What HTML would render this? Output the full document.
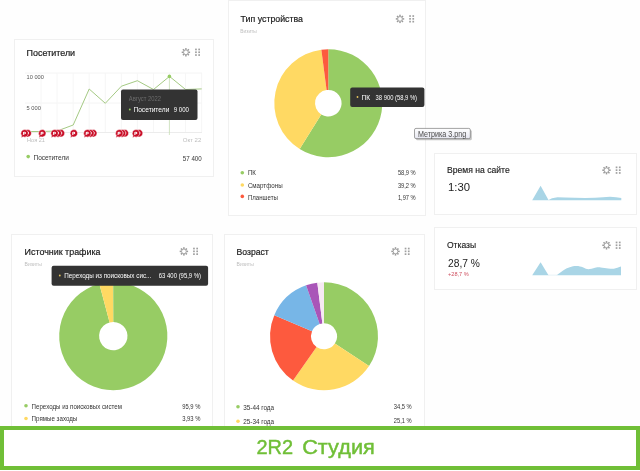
<!DOCTYPE html>
<html><head><meta charset="utf-8"><title>2R2 Студия</title>
<style>
html,body{margin:0;padding:0}
body{width:640px;height:471px;overflow:hidden;background:#fefefe;font-family:"Liberation Sans",sans-serif;position:relative;color:#222}
.card{position:absolute;background:#fff;border:1px solid #f0f0f0;box-sizing:border-box}
svg{position:absolute;left:0;top:0;font-family:"Liberation Sans",sans-serif}
#banner{position:absolute;left:0;top:426px;width:640px;height:44px;box-sizing:border-box;border:4px solid #70bf37;background:#fff}
#foot{position:absolute;left:0;top:470px;width:640px;height:1px;background:#fff}
</style></head><body>
<div class="card" style="left:14px;top:39px;width:200px;height:138px"></div>
<div class="card" style="left:228px;top:0;width:198px;height:216px"></div>
<div class="card" style="left:434px;top:153px;width:203px;height:62px"></div>
<div class="card" style="left:434px;top:227px;width:203px;height:63px"></div>
<div class="card" style="left:11px;top:234px;width:202px;height:215px"></div>
<div class="card" style="left:224px;top:234px;width:201px;height:215px"></div>
<div id="banner"></div><div id="foot"></div>

<svg width="640" height="471" viewBox="0 0 640 471">
<line x1="25" y1="73" x2="202" y2="73" stroke="#f4f4f4"/>
<line x1="25" y1="103" x2="202" y2="103" stroke="#f4f4f4"/>
<line x1="25" y1="132.5" x2="202" y2="132.5" stroke="#ececec"/>
<line x1="41.1" y1="73" x2="41.1" y2="132" stroke="#f6f6f6" stroke-width="1"/><line x1="57.1" y1="73" x2="57.1" y2="132" stroke="#f6f6f6" stroke-width="1"/><line x1="73.2" y1="73" x2="73.2" y2="132" stroke="#f6f6f6" stroke-width="1"/><line x1="89.2" y1="73" x2="89.2" y2="132" stroke="#f6f6f6" stroke-width="1"/><line x1="105.3" y1="73" x2="105.3" y2="132" stroke="#f6f6f6" stroke-width="1"/><line x1="121.4" y1="73" x2="121.4" y2="132" stroke="#f6f6f6" stroke-width="1"/><line x1="137.4" y1="73" x2="137.4" y2="132" stroke="#f6f6f6" stroke-width="1"/><line x1="153.5" y1="73" x2="153.5" y2="132" stroke="#f6f6f6" stroke-width="1"/><line x1="169.5" y1="73" x2="169.5" y2="132" stroke="#f6f6f6" stroke-width="1"/><line x1="185.6" y1="73" x2="185.6" y2="132" stroke="#f6f6f6" stroke-width="1"/><line x1="201.7" y1="73" x2="201.7" y2="132" stroke="#f6f6f6" stroke-width="1"/>
<line x1="169.4" y1="76" x2="169.4" y2="135" stroke="#c3dcae" stroke-width="0.7"/>
<path d="M25.0 131.5 L41.1 131.5 L57.1 131 L73.2 125 L89.2 89 L105.3 103.3 L121.4 86.2 L137.4 80.7 L153.5 89.5 L169.5 76.4 L185.6 89.5 L201.7 88.9" fill="none" stroke="#9fc67c" stroke-width="0.95" stroke-linejoin="round"/>
<circle cx="169.4" cy="76.4" r="1.8" fill="#97cc64"/>
<path d="M328.30 49.20A54 54 0 1 1 299.68 148.99L321.25 114.48A13.3 13.3 0 1 0 328.30 89.90Z" fill="#97cc64"/>
<path d="M299.68 148.99A54 54 0 0 1 321.35 49.65L326.59 90.01A13.3 13.3 0 0 0 321.25 114.48Z" fill="#ffd963"/>
<path d="M321.35 49.65A54 54 0 0 1 328.30 49.20L328.30 89.90A13.3 13.3 0 0 0 326.59 90.01Z" fill="#fd5a3e"/>
<path d="M113.30 282.00A54.1 54.1 0 1 1 99.30 283.84L109.62 322.38A14.2 14.2 0 1 0 113.30 321.90Z" fill="#97cc64"/>
<path d="M99.30 283.84A54.1 54.1 0 0 1 112.92 282.00L113.20 321.90A14.2 14.2 0 0 0 109.62 322.38Z" fill="#ffd963"/>
<path d="M112.92 282.00A54.1 54.1 0 0 1 113.30 282.00L113.30 321.90A14.2 14.2 0 0 0 113.20 321.90Z" fill="#97cc64"/>
<path d="M324.00 282.30A54 54 0 0 1 369.03 366.10L334.84 343.48A13 13 0 0 0 324.00 323.30Z" fill="#97cc64"/>
<path d="M369.03 366.10A54 54 0 0 1 293.03 380.53L316.54 346.95A13 13 0 0 0 334.84 343.48Z" fill="#ffd963"/>
<path d="M293.03 380.53A54 54 0 0 1 274.29 315.20L312.03 331.22A13 13 0 0 0 316.54 346.95Z" fill="#fd5a3e"/>
<path d="M274.29 315.20A54 54 0 0 1 306.06 285.37L319.68 324.04A13 13 0 0 0 312.03 331.22Z" fill="#77b6e7"/>
<path d="M306.06 285.37A54 54 0 0 1 317.33 282.71L322.39 323.40A13 13 0 0 0 319.68 324.04Z" fill="#a955b8"/>
<path d="M317.33 282.71A54 54 0 0 1 324.00 282.30L324.00 323.30A13 13 0 0 0 322.39 323.40Z" fill="#f6e9f3"/>
<path d="M532.2 200.3 L540.6 185.7 L548.5 200 L552 198.3 L557.5 197.2 L565 197.6 L575 197.8 L585 197.9 L595 197.7 L603 197.2 L610 196.8 L616 197.2 L621.3 198 L621.3 200.3Z" fill="#a9d5e6"/>
<path d="M532.2 275.3 L540.6 262.2 L548.5 275.3 L556.6 275.3 L563.1 270.6 C566 268.6 568 267.8 569.7 267.3 C572 266.3 574 265.9 576.3 265.9 C579 265.9 581 266.5 582.8 267.3 C585 268.3 587 269.3 588.4 269.3 C590 269.3 593 268.2 595 267.8 C597 267.4 599 267.3 600.6 267.4 C603 267.6 606 268.2 608.1 268.4 C610 268.7 612 268.9 613.8 268.8 C616 268.4 619 267.2 621 266.5 L621 275.3Z" fill="#a9d5e6"/>
<rect x="548" y="274.8" width="9" height="0.5" fill="#cfe6ef"/>
<g transform="translate(185.9 52.3)"><circle r="2.35" fill="none" stroke="#9a9a9a" stroke-width="0.85"/><rect x="-0.75" y="-4.2" width="1.5" height="1.7" transform="rotate(0)" fill="#9a9a9a"/><rect x="-0.75" y="-4.2" width="1.5" height="1.7" transform="rotate(45)" fill="#9a9a9a"/><rect x="-0.75" y="-4.2" width="1.5" height="1.7" transform="rotate(90)" fill="#9a9a9a"/><rect x="-0.75" y="-4.2" width="1.5" height="1.7" transform="rotate(135)" fill="#9a9a9a"/><rect x="-0.75" y="-4.2" width="1.5" height="1.7" transform="rotate(180)" fill="#9a9a9a"/><rect x="-0.75" y="-4.2" width="1.5" height="1.7" transform="rotate(225)" fill="#9a9a9a"/><rect x="-0.75" y="-4.2" width="1.5" height="1.7" transform="rotate(270)" fill="#9a9a9a"/><rect x="-0.75" y="-4.2" width="1.5" height="1.7" transform="rotate(315)" fill="#9a9a9a"/></g><rect x="195.1" y="48.6" width="1.7" height="1.7" fill="#a0a0a0"/><rect x="195.1" y="51.4" width="1.7" height="1.7" fill="#a0a0a0"/><rect x="195.1" y="54.2" width="1.7" height="1.7" fill="#a0a0a0"/><rect x="198.3" y="48.6" width="1.7" height="1.7" fill="#a0a0a0"/><rect x="198.3" y="51.4" width="1.7" height="1.7" fill="#a0a0a0"/><rect x="198.3" y="54.2" width="1.7" height="1.7" fill="#a0a0a0"/><g transform="translate(400 18.9)"><circle r="2.35" fill="none" stroke="#9a9a9a" stroke-width="0.85"/><rect x="-0.75" y="-4.2" width="1.5" height="1.7" transform="rotate(0)" fill="#9a9a9a"/><rect x="-0.75" y="-4.2" width="1.5" height="1.7" transform="rotate(45)" fill="#9a9a9a"/><rect x="-0.75" y="-4.2" width="1.5" height="1.7" transform="rotate(90)" fill="#9a9a9a"/><rect x="-0.75" y="-4.2" width="1.5" height="1.7" transform="rotate(135)" fill="#9a9a9a"/><rect x="-0.75" y="-4.2" width="1.5" height="1.7" transform="rotate(180)" fill="#9a9a9a"/><rect x="-0.75" y="-4.2" width="1.5" height="1.7" transform="rotate(225)" fill="#9a9a9a"/><rect x="-0.75" y="-4.2" width="1.5" height="1.7" transform="rotate(270)" fill="#9a9a9a"/><rect x="-0.75" y="-4.2" width="1.5" height="1.7" transform="rotate(315)" fill="#9a9a9a"/></g><rect x="409.2" y="15.2" width="1.7" height="1.7" fill="#a0a0a0"/><rect x="409.2" y="18.0" width="1.7" height="1.7" fill="#a0a0a0"/><rect x="409.2" y="20.8" width="1.7" height="1.7" fill="#a0a0a0"/><rect x="412.4" y="15.2" width="1.7" height="1.7" fill="#a0a0a0"/><rect x="412.4" y="18.0" width="1.7" height="1.7" fill="#a0a0a0"/><rect x="412.4" y="20.8" width="1.7" height="1.7" fill="#a0a0a0"/><g transform="translate(606.5 170.2)"><circle r="2.35" fill="none" stroke="#9a9a9a" stroke-width="0.85"/><rect x="-0.75" y="-4.2" width="1.5" height="1.7" transform="rotate(0)" fill="#9a9a9a"/><rect x="-0.75" y="-4.2" width="1.5" height="1.7" transform="rotate(45)" fill="#9a9a9a"/><rect x="-0.75" y="-4.2" width="1.5" height="1.7" transform="rotate(90)" fill="#9a9a9a"/><rect x="-0.75" y="-4.2" width="1.5" height="1.7" transform="rotate(135)" fill="#9a9a9a"/><rect x="-0.75" y="-4.2" width="1.5" height="1.7" transform="rotate(180)" fill="#9a9a9a"/><rect x="-0.75" y="-4.2" width="1.5" height="1.7" transform="rotate(225)" fill="#9a9a9a"/><rect x="-0.75" y="-4.2" width="1.5" height="1.7" transform="rotate(270)" fill="#9a9a9a"/><rect x="-0.75" y="-4.2" width="1.5" height="1.7" transform="rotate(315)" fill="#9a9a9a"/></g><rect x="615.7" y="166.5" width="1.7" height="1.7" fill="#a0a0a0"/><rect x="615.7" y="169.3" width="1.7" height="1.7" fill="#a0a0a0"/><rect x="615.7" y="172.1" width="1.7" height="1.7" fill="#a0a0a0"/><rect x="618.9" y="166.5" width="1.7" height="1.7" fill="#a0a0a0"/><rect x="618.9" y="169.3" width="1.7" height="1.7" fill="#a0a0a0"/><rect x="618.9" y="172.1" width="1.7" height="1.7" fill="#a0a0a0"/><g transform="translate(606.5 245.3)"><circle r="2.35" fill="none" stroke="#9a9a9a" stroke-width="0.85"/><rect x="-0.75" y="-4.2" width="1.5" height="1.7" transform="rotate(0)" fill="#9a9a9a"/><rect x="-0.75" y="-4.2" width="1.5" height="1.7" transform="rotate(45)" fill="#9a9a9a"/><rect x="-0.75" y="-4.2" width="1.5" height="1.7" transform="rotate(90)" fill="#9a9a9a"/><rect x="-0.75" y="-4.2" width="1.5" height="1.7" transform="rotate(135)" fill="#9a9a9a"/><rect x="-0.75" y="-4.2" width="1.5" height="1.7" transform="rotate(180)" fill="#9a9a9a"/><rect x="-0.75" y="-4.2" width="1.5" height="1.7" transform="rotate(225)" fill="#9a9a9a"/><rect x="-0.75" y="-4.2" width="1.5" height="1.7" transform="rotate(270)" fill="#9a9a9a"/><rect x="-0.75" y="-4.2" width="1.5" height="1.7" transform="rotate(315)" fill="#9a9a9a"/></g><rect x="615.7" y="241.6" width="1.7" height="1.7" fill="#a0a0a0"/><rect x="615.7" y="244.4" width="1.7" height="1.7" fill="#a0a0a0"/><rect x="615.7" y="247.2" width="1.7" height="1.7" fill="#a0a0a0"/><rect x="618.9" y="241.6" width="1.7" height="1.7" fill="#a0a0a0"/><rect x="618.9" y="244.4" width="1.7" height="1.7" fill="#a0a0a0"/><rect x="618.9" y="247.2" width="1.7" height="1.7" fill="#a0a0a0"/><g transform="translate(183.9 251.4)"><circle r="2.35" fill="none" stroke="#9a9a9a" stroke-width="0.85"/><rect x="-0.75" y="-4.2" width="1.5" height="1.7" transform="rotate(0)" fill="#9a9a9a"/><rect x="-0.75" y="-4.2" width="1.5" height="1.7" transform="rotate(45)" fill="#9a9a9a"/><rect x="-0.75" y="-4.2" width="1.5" height="1.7" transform="rotate(90)" fill="#9a9a9a"/><rect x="-0.75" y="-4.2" width="1.5" height="1.7" transform="rotate(135)" fill="#9a9a9a"/><rect x="-0.75" y="-4.2" width="1.5" height="1.7" transform="rotate(180)" fill="#9a9a9a"/><rect x="-0.75" y="-4.2" width="1.5" height="1.7" transform="rotate(225)" fill="#9a9a9a"/><rect x="-0.75" y="-4.2" width="1.5" height="1.7" transform="rotate(270)" fill="#9a9a9a"/><rect x="-0.75" y="-4.2" width="1.5" height="1.7" transform="rotate(315)" fill="#9a9a9a"/></g><rect x="193.1" y="247.7" width="1.7" height="1.7" fill="#a0a0a0"/><rect x="193.1" y="250.5" width="1.7" height="1.7" fill="#a0a0a0"/><rect x="193.1" y="253.3" width="1.7" height="1.7" fill="#a0a0a0"/><rect x="196.3" y="247.7" width="1.7" height="1.7" fill="#a0a0a0"/><rect x="196.3" y="250.5" width="1.7" height="1.7" fill="#a0a0a0"/><rect x="196.3" y="253.3" width="1.7" height="1.7" fill="#a0a0a0"/><g transform="translate(395.5 251.4)"><circle r="2.35" fill="none" stroke="#9a9a9a" stroke-width="0.85"/><rect x="-0.75" y="-4.2" width="1.5" height="1.7" transform="rotate(0)" fill="#9a9a9a"/><rect x="-0.75" y="-4.2" width="1.5" height="1.7" transform="rotate(45)" fill="#9a9a9a"/><rect x="-0.75" y="-4.2" width="1.5" height="1.7" transform="rotate(90)" fill="#9a9a9a"/><rect x="-0.75" y="-4.2" width="1.5" height="1.7" transform="rotate(135)" fill="#9a9a9a"/><rect x="-0.75" y="-4.2" width="1.5" height="1.7" transform="rotate(180)" fill="#9a9a9a"/><rect x="-0.75" y="-4.2" width="1.5" height="1.7" transform="rotate(225)" fill="#9a9a9a"/><rect x="-0.75" y="-4.2" width="1.5" height="1.7" transform="rotate(270)" fill="#9a9a9a"/><rect x="-0.75" y="-4.2" width="1.5" height="1.7" transform="rotate(315)" fill="#9a9a9a"/></g><rect x="404.7" y="247.7" width="1.7" height="1.7" fill="#a0a0a0"/><rect x="404.7" y="250.5" width="1.7" height="1.7" fill="#a0a0a0"/><rect x="404.7" y="253.3" width="1.7" height="1.7" fill="#a0a0a0"/><rect x="407.9" y="247.7" width="1.7" height="1.7" fill="#a0a0a0"/><rect x="407.9" y="250.5" width="1.7" height="1.7" fill="#a0a0a0"/><rect x="407.9" y="253.3" width="1.7" height="1.7" fill="#a0a0a0"/>
<circle cx="28.2" cy="156.6" r="1.8" fill="#97cc64"/><circle cx="242.3" cy="172.7" r="1.8" fill="#97cc64"/><circle cx="242.3" cy="185" r="1.8" fill="#ffd963"/><circle cx="242.3" cy="196.4" r="1.8" fill="#fd5a3e"/><circle cx="26" cy="405.8" r="1.8" fill="#97cc64"/><circle cx="26" cy="418.5" r="1.8" fill="#ffd963"/><circle cx="238" cy="406.8" r="1.8" fill="#97cc64"/><circle cx="238" cy="421.2" r="1.8" fill="#ffd963"/>
<text x="26.6" y="55.68" font-size="9.4" fill="#1c1c1c" font-weight="normal" textLength="48.5" lengthAdjust="spacingAndGlyphs" stroke="#1c1c1c" stroke-width="0.2">Посетители</text>
<text x="26.6" y="78.86" font-size="6" fill="#555" font-weight="normal" textLength="17.2" lengthAdjust="spacingAndGlyphs">10 000</text>
<text x="26.6" y="109.96" font-size="6" fill="#555" font-weight="normal" textLength="14.3" lengthAdjust="spacingAndGlyphs">5 000</text>
<text x="27" y="142.32" font-size="5.6" fill="#bdbdbd" font-weight="normal" textLength="18.0" lengthAdjust="spacingAndGlyphs">Ноя 21</text>
<text x="182.8" y="142.12" font-size="5.6" fill="#bdbdbd" font-weight="normal" textLength="18.5" lengthAdjust="spacingAndGlyphs">Окт 22</text>
<text x="33.5" y="160.34" font-size="7.6" fill="#333" font-weight="normal" textLength="35.4" lengthAdjust="spacingAndGlyphs">Посетители</text>
<text x="182.8" y="160.74" font-size="7.6" fill="#333" font-weight="normal" textLength="18.9" lengthAdjust="spacingAndGlyphs">57 400</text>
<text x="240.6" y="21.88" font-size="9.4" fill="#1c1c1c" font-weight="normal" textLength="62.4" lengthAdjust="spacingAndGlyphs" stroke="#1c1c1c" stroke-width="0.2">Тип устройства</text>
<text x="240.3" y="33.32" font-size="5.6" fill="#bdbdbd" font-weight="normal" textLength="16.5" lengthAdjust="spacingAndGlyphs">Визиты</text>
<text x="247.9" y="175.44" font-size="7.6" fill="#333" font-weight="normal" textLength="8.0" lengthAdjust="spacingAndGlyphs">ПК</text>
<text x="247.9" y="187.74" font-size="7.6" fill="#333" font-weight="normal" textLength="34.7" lengthAdjust="spacingAndGlyphs">Смартфоны</text>
<text x="247.9" y="199.74" font-size="7.6" fill="#333" font-weight="normal" textLength="30.0" lengthAdjust="spacingAndGlyphs">Планшеты</text>
<text x="397.9" y="175.44" font-size="7.6" fill="#333" font-weight="normal" textLength="17.8" lengthAdjust="spacingAndGlyphs">58,9 %</text>
<text x="397.9" y="187.54" font-size="7.6" fill="#333" font-weight="normal" textLength="17.8" lengthAdjust="spacingAndGlyphs">39,2 %</text>
<text x="397.9" y="199.64" font-size="7.6" fill="#333" font-weight="normal" textLength="17.8" lengthAdjust="spacingAndGlyphs">1,97 %</text>
<text x="447" y="173.17" font-size="8.8" fill="#1c1c1c" font-weight="normal" textLength="62.7" lengthAdjust="spacingAndGlyphs" stroke="#1c1c1c" stroke-width="0.15">Время на сайте</text>
<text x="448" y="191.14" font-size="11.5" fill="#1c1c1c" font-weight="normal" textLength="22.0" lengthAdjust="spacingAndGlyphs">1:30</text>
<text x="447" y="248.47" font-size="8.8" fill="#1c1c1c" font-weight="normal" textLength="29.0" lengthAdjust="spacingAndGlyphs" stroke="#1c1c1c" stroke-width="0.15">Отказы</text>
<text x="448" y="266.74" font-size="11.5" fill="#1c1c1c" font-weight="normal" textLength="31.9" lengthAdjust="spacingAndGlyphs">28,7 %</text>
<text x="448" y="276.26" font-size="6" fill="#cf5060" font-weight="normal" textLength="20.7" lengthAdjust="spacingAndGlyphs">+28,7 %</text>
<text x="24.6" y="255.08" font-size="9.4" fill="#1c1c1c" font-weight="normal" textLength="75.9" lengthAdjust="spacingAndGlyphs" stroke="#1c1c1c" stroke-width="0.2">Источник трафика</text>
<text x="24.6" y="265.52" font-size="5.6" fill="#bdbdbd" font-weight="normal" textLength="17.2" lengthAdjust="spacingAndGlyphs">Визиты</text>
<text x="31.6" y="408.54" font-size="7.6" fill="#333" font-weight="normal" textLength="90.4" lengthAdjust="spacingAndGlyphs">Переходы из поисковых систем</text>
<text x="31.6" y="421.24" font-size="7.6" fill="#333" font-weight="normal" textLength="45.7" lengthAdjust="spacingAndGlyphs">Прямые заходы</text>
<text x="182.2" y="408.54" font-size="7.6" fill="#333" font-weight="normal" textLength="18.2" lengthAdjust="spacingAndGlyphs">95,9 %</text>
<text x="182.2" y="421.24" font-size="7.6" fill="#333" font-weight="normal" textLength="18.2" lengthAdjust="spacingAndGlyphs">3,93 %</text>
<text x="236.5" y="255.08" font-size="9.4" fill="#1c1c1c" font-weight="normal" textLength="32.3" lengthAdjust="spacingAndGlyphs" stroke="#1c1c1c" stroke-width="0.2">Возраст</text>
<text x="236.6" y="265.52" font-size="5.6" fill="#bdbdbd" font-weight="normal" textLength="17.2" lengthAdjust="spacingAndGlyphs">Визиты</text>
<text x="243.2" y="409.54" font-size="7.6" fill="#333" font-weight="normal" textLength="30.9" lengthAdjust="spacingAndGlyphs">35-44 года</text>
<text x="243.2" y="423.74" font-size="7.6" fill="#333" font-weight="normal" textLength="30.9" lengthAdjust="spacingAndGlyphs">25-34 года</text>
<text x="393.8" y="408.54" font-size="7.6" fill="#333" font-weight="normal" textLength="17.8" lengthAdjust="spacingAndGlyphs">34,5 %</text>
<text x="393.8" y="422.94" font-size="7.6" fill="#333" font-weight="normal" textLength="17.8" lengthAdjust="spacingAndGlyphs">25,1 %</text>
<rect x="121" y="89.5" width="76.5" height="30.5" rx="2" fill="#333"/>
<rect x="350.2" y="87.5" width="74.2" height="19.5" rx="2" fill="#333"/>
<rect x="51.6" y="265.8" width="156.5" height="20" rx="2" fill="#333"/>
<circle cx="129.8" cy="109.5" r="0.95" fill="#97cc64"/>
<circle cx="357.5" cy="97" r="0.9" fill="#e6c45c"/>
<circle cx="59.8" cy="275.5" r="0.9" fill="#e6c45c"/>
<defs><linearGradient id="tg" x1="0" y1="0" x2="0" y2="1"><stop offset="0" stop-color="#ffffff"/><stop offset="1" stop-color="#e6e7f1"/></linearGradient></defs>
<rect x="416" y="130" width="55.8" height="10.2" rx="1.5" fill="#8a8a8a" opacity="0.5"/>
<rect x="414.5" y="128.4" width="55.8" height="10.2" rx="1.5" fill="url(#tg)" stroke="#7b7b7b" stroke-width="0.7"/>
<text x="128.8" y="101.09" font-size="6.5" fill="#6c6c6c" font-weight="normal" textLength="32.3" lengthAdjust="spacingAndGlyphs">Август 2022</text>
<text x="133.4" y="112.44" font-size="7.6" fill="#fff" font-weight="normal" textLength="36.0" lengthAdjust="spacingAndGlyphs">Посетители</text>
<text x="173.7" y="112.44" font-size="7.6" fill="#fff" font-weight="normal" textLength="15.3" lengthAdjust="spacingAndGlyphs">9 000</text>
<text x="361.6" y="99.74" font-size="7.6" fill="#fff" font-weight="normal" textLength="8.6" lengthAdjust="spacingAndGlyphs">ПК</text>
<text x="375.6" y="99.74" font-size="7.6" fill="#fff" font-weight="normal" textLength="41.4" lengthAdjust="spacingAndGlyphs">38 900 (58,9 %)</text>
<text x="64.3" y="278.34" font-size="7.6" fill="#fff" font-weight="normal" textLength="87.0" lengthAdjust="spacingAndGlyphs">Переходы из поисковых сис...</text>
<text x="158.8" y="278.34" font-size="7.6" fill="#fff" font-weight="normal" textLength="42.3" lengthAdjust="spacingAndGlyphs">63 400 (95,9 %)</text>
<text x="418" y="136.60" font-size="8.6" fill="#4c4c4c" font-weight="normal" textLength="48.1" lengthAdjust="spacingAndGlyphs">Метрика 3.png</text>
<g transform="translate(27.7 133.3)"><path d="M0 -3.75A3.75 3.75 0 1 1 -1.5 3.45L-3.4 4.4L-3.0 2.25A3.75 3.75 0 0 1 0 -3.75Z" fill="#c90f28" stroke="#fff" stroke-width="0.5"/><ellipse cx="-0.2" cy="-0.3" rx="1.55" ry="1.3" fill="#fff"/><path d="M-1.5 0.2L-1.9 1.9L-0.2 1.0Z" fill="#fff"/><circle cx="-0.2" cy="-0.3" r="0.5" fill="#c90f28"/></g><g transform="translate(24.6 133.3)"><path d="M0 -3.75A3.75 3.75 0 1 1 -1.5 3.45L-3.4 4.4L-3.0 2.25A3.75 3.75 0 0 1 0 -3.75Z" fill="#c90f28" stroke="#fff" stroke-width="0.5"/><ellipse cx="-0.2" cy="-0.3" rx="1.55" ry="1.3" fill="#fff"/><path d="M-1.5 0.2L-1.9 1.9L-0.2 1.0Z" fill="#fff"/><circle cx="-0.2" cy="-0.3" r="0.5" fill="#c90f28"/></g><g transform="translate(42.3 133.3)"><path d="M0 -3.75A3.75 3.75 0 1 1 -1.5 3.45L-3.4 4.4L-3.0 2.25A3.75 3.75 0 0 1 0 -3.75Z" fill="#c90f28" stroke="#fff" stroke-width="0.5"/><ellipse cx="-0.2" cy="-0.3" rx="1.55" ry="1.3" fill="#fff"/><path d="M-1.5 0.2L-1.9 1.9L-0.2 1.0Z" fill="#fff"/><circle cx="-0.2" cy="-0.3" r="0.5" fill="#c90f28"/></g><g transform="translate(61.0 133.3)"><path d="M0 -3.75A3.75 3.75 0 1 1 -1.5 3.45L-3.4 4.4L-3.0 2.25A3.75 3.75 0 0 1 0 -3.75Z" fill="#c90f28" stroke="#fff" stroke-width="0.5"/><ellipse cx="-0.2" cy="-0.3" rx="1.55" ry="1.3" fill="#fff"/><path d="M-1.5 0.2L-1.9 1.9L-0.2 1.0Z" fill="#fff"/><circle cx="-0.2" cy="-0.3" r="0.5" fill="#c90f28"/></g><g transform="translate(57.8 133.3)"><path d="M0 -3.75A3.75 3.75 0 1 1 -1.5 3.45L-3.4 4.4L-3.0 2.25A3.75 3.75 0 0 1 0 -3.75Z" fill="#c90f28" stroke="#fff" stroke-width="0.5"/><ellipse cx="-0.2" cy="-0.3" rx="1.55" ry="1.3" fill="#fff"/><path d="M-1.5 0.2L-1.9 1.9L-0.2 1.0Z" fill="#fff"/><circle cx="-0.2" cy="-0.3" r="0.5" fill="#c90f28"/></g><g transform="translate(54.6 133.3)"><path d="M0 -3.75A3.75 3.75 0 1 1 -1.5 3.45L-3.4 4.4L-3.0 2.25A3.75 3.75 0 0 1 0 -3.75Z" fill="#c90f28" stroke="#fff" stroke-width="0.5"/><ellipse cx="-0.2" cy="-0.3" rx="1.55" ry="1.3" fill="#fff"/><path d="M-1.5 0.2L-1.9 1.9L-0.2 1.0Z" fill="#fff"/><circle cx="-0.2" cy="-0.3" r="0.5" fill="#c90f28"/></g><g transform="translate(73.9 133.3)"><path d="M0 -3.75A3.75 3.75 0 1 1 -1.5 3.45L-3.4 4.4L-3.0 2.25A3.75 3.75 0 0 1 0 -3.75Z" fill="#c90f28" stroke="#fff" stroke-width="0.5"/><ellipse cx="-0.2" cy="-0.3" rx="1.55" ry="1.3" fill="#fff"/><path d="M-1.5 0.2L-1.9 1.9L-0.2 1.0Z" fill="#fff"/><circle cx="-0.2" cy="-0.3" r="0.5" fill="#c90f28"/></g><g transform="translate(93.3 133.3)"><path d="M0 -3.75A3.75 3.75 0 1 1 -1.5 3.45L-3.4 4.4L-3.0 2.25A3.75 3.75 0 0 1 0 -3.75Z" fill="#c90f28" stroke="#fff" stroke-width="0.5"/><ellipse cx="-0.2" cy="-0.3" rx="1.55" ry="1.3" fill="#fff"/><path d="M-1.5 0.2L-1.9 1.9L-0.2 1.0Z" fill="#fff"/><circle cx="-0.2" cy="-0.3" r="0.5" fill="#c90f28"/></g><g transform="translate(90.4 133.3)"><path d="M0 -3.75A3.75 3.75 0 1 1 -1.5 3.45L-3.4 4.4L-3.0 2.25A3.75 3.75 0 0 1 0 -3.75Z" fill="#c90f28" stroke="#fff" stroke-width="0.5"/><ellipse cx="-0.2" cy="-0.3" rx="1.55" ry="1.3" fill="#fff"/><path d="M-1.5 0.2L-1.9 1.9L-0.2 1.0Z" fill="#fff"/><circle cx="-0.2" cy="-0.3" r="0.5" fill="#c90f28"/></g><g transform="translate(87.4 133.3)"><path d="M0 -3.75A3.75 3.75 0 1 1 -1.5 3.45L-3.4 4.4L-3.0 2.25A3.75 3.75 0 0 1 0 -3.75Z" fill="#c90f28" stroke="#fff" stroke-width="0.5"/><ellipse cx="-0.2" cy="-0.3" rx="1.55" ry="1.3" fill="#fff"/><path d="M-1.5 0.2L-1.9 1.9L-0.2 1.0Z" fill="#fff"/><circle cx="-0.2" cy="-0.3" r="0.5" fill="#c90f28"/></g><g transform="translate(124.9 133.3)"><path d="M0 -3.75A3.75 3.75 0 1 1 -1.5 3.45L-3.4 4.4L-3.0 2.25A3.75 3.75 0 0 1 0 -3.75Z" fill="#c90f28" stroke="#fff" stroke-width="0.5"/><ellipse cx="-0.2" cy="-0.3" rx="1.55" ry="1.3" fill="#fff"/><path d="M-1.5 0.2L-1.9 1.9L-0.2 1.0Z" fill="#fff"/><circle cx="-0.2" cy="-0.3" r="0.5" fill="#c90f28"/></g><g transform="translate(122.1 133.3)"><path d="M0 -3.75A3.75 3.75 0 1 1 -1.5 3.45L-3.4 4.4L-3.0 2.25A3.75 3.75 0 0 1 0 -3.75Z" fill="#c90f28" stroke="#fff" stroke-width="0.5"/><ellipse cx="-0.2" cy="-0.3" rx="1.55" ry="1.3" fill="#fff"/><path d="M-1.5 0.2L-1.9 1.9L-0.2 1.0Z" fill="#fff"/><circle cx="-0.2" cy="-0.3" r="0.5" fill="#c90f28"/></g><g transform="translate(119.3 133.3)"><path d="M0 -3.75A3.75 3.75 0 1 1 -1.5 3.45L-3.4 4.4L-3.0 2.25A3.75 3.75 0 0 1 0 -3.75Z" fill="#c90f28" stroke="#fff" stroke-width="0.5"/><ellipse cx="-0.2" cy="-0.3" rx="1.55" ry="1.3" fill="#fff"/><path d="M-1.5 0.2L-1.9 1.9L-0.2 1.0Z" fill="#fff"/><circle cx="-0.2" cy="-0.3" r="0.5" fill="#c90f28"/></g><g transform="translate(139.1 133.3)"><path d="M0 -3.75A3.75 3.75 0 1 1 -1.5 3.45L-3.4 4.4L-3.0 2.25A3.75 3.75 0 0 1 0 -3.75Z" fill="#c90f28" stroke="#fff" stroke-width="0.5"/><ellipse cx="-0.2" cy="-0.3" rx="1.55" ry="1.3" fill="#fff"/><path d="M-1.5 0.2L-1.9 1.9L-0.2 1.0Z" fill="#fff"/><circle cx="-0.2" cy="-0.3" r="0.5" fill="#c90f28"/></g><g transform="translate(136.0 133.3)"><path d="M0 -3.75A3.75 3.75 0 1 1 -1.5 3.45L-3.4 4.4L-3.0 2.25A3.75 3.75 0 0 1 0 -3.75Z" fill="#c90f28" stroke="#fff" stroke-width="0.5"/><ellipse cx="-0.2" cy="-0.3" rx="1.55" ry="1.3" fill="#fff"/><path d="M-1.5 0.2L-1.9 1.9L-0.2 1.0Z" fill="#fff"/><circle cx="-0.2" cy="-0.3" r="0.5" fill="#c90f28"/></g>
<text y="454.3" font-size="20" fill="#70bf37" stroke="#70bf37" stroke-width="0.45"><tspan x="256.4" textLength="36.6" lengthAdjust="spacingAndGlyphs">2R2</tspan> <tspan x="302.2" textLength="72.6" lengthAdjust="spacingAndGlyphs">Студия</tspan></text>
</svg>
</body></html>
